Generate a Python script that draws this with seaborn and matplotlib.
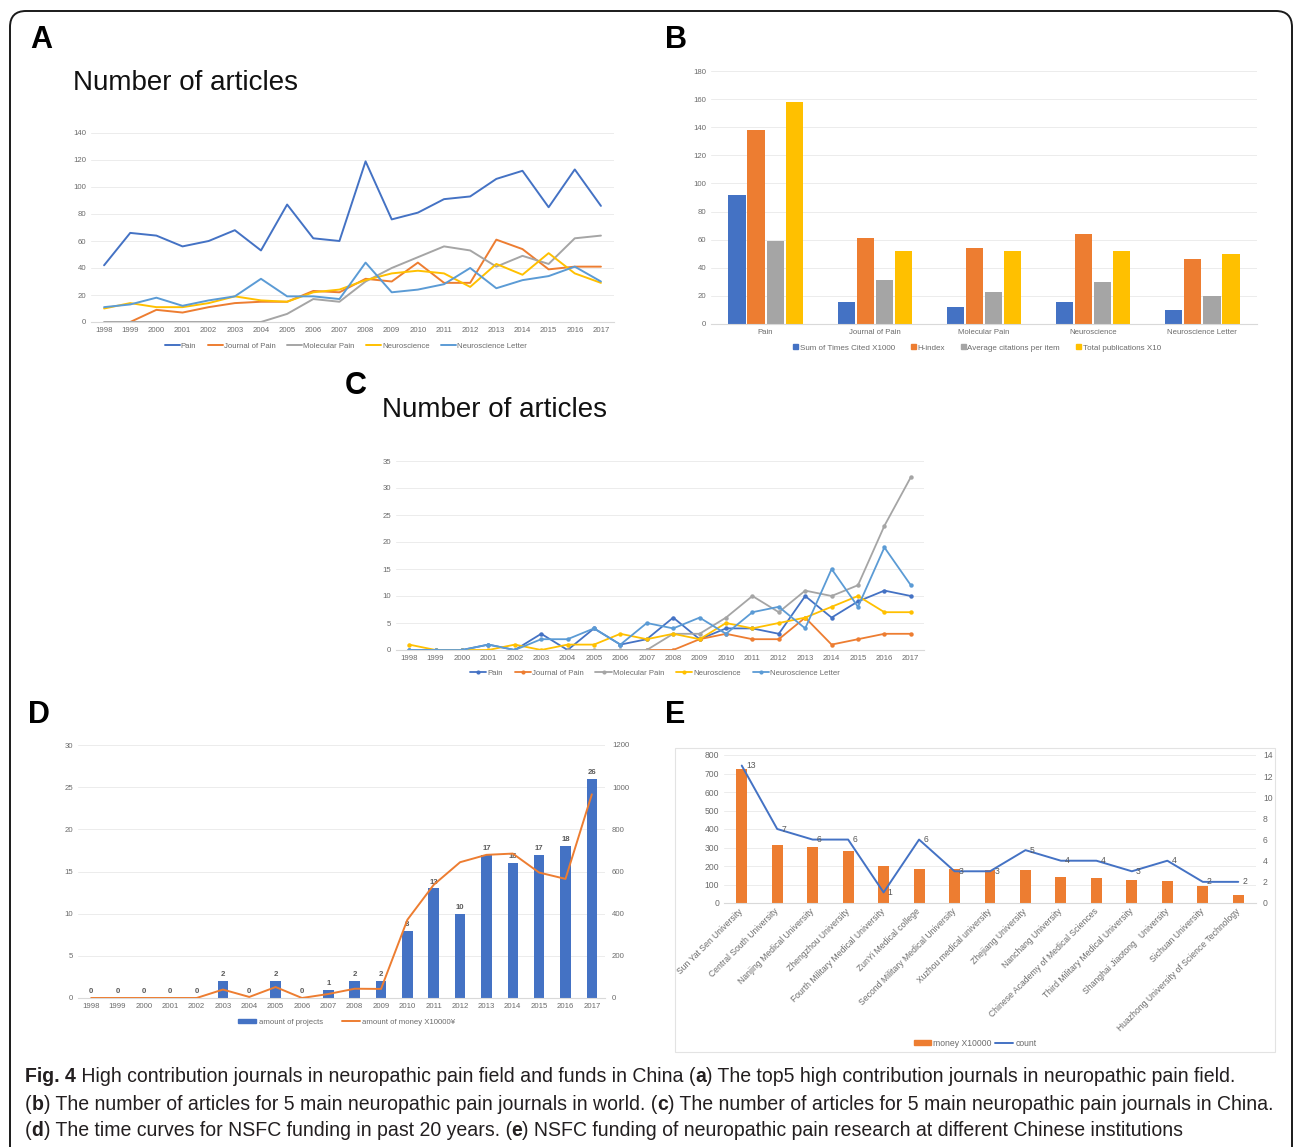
"""Fig. 4 recreation: journals + NSFC funding panels -> out.png"""
import numpy as np
import pandas as pd
import matplotlib
matplotlib.use("Agg")
import matplotlib.pyplot as plt
import seaborn as sns
from matplotlib.patches import FancyBboxPatch, Rectangle, Patch
from matplotlib.lines import Line2D
from matplotlib.transforms import IdentityTransform
from matplotlib import font_manager

W, H = 1295, 1147
nan = np.nan

# ── data ──────────────────────────────────────────────────────────────────────
YEARS = list(range(1998, 2018))
JOURNALS = ["Pain", "Journal of Pain", "Molecular Pain", "Neuroscience", "Neuroscience Letter"]

# A: number of articles (world)
a_pain  = [42, 66, 64, 56, 60, 68, 53, 87, 62, 60, 119, 76, 81, 91, 93, 106, 112, 85, 113, 86]
a_jpain = [nan, 0, 9, 7, 11, 14, 15, 15, 23, 22, 32, 30, 44, 29, 29, 61, 54, 39, 41, 41]
a_mpain = [0, 0, 0, 0, 0, 0, 0, 6, 17, 15, 30, 40, 48, 56, 53, 41, 49, 43, 62, 64]
a_neuro = [10, 14, 11, 11, 14, 19, 16, 15, 22, 24, 31, 36, 38, 36, 26, 43, 35, 51, 36, 29]
a_nlett = [11, 13, 18, 12, 16, 19, 32, 19, 19, 17, 44, 22, 24, 28, 40, 25, 31, 34, 41, 30]

# B: journal metrics
METRICS = ["Sum of Times Cited X1000", "H-index", "Average citations per item", "Total publications X10"]
b_cited = [92, 16, 12, 15.5, 10]
b_hindex = [138, 61, 54, 64, 46]
b_avg = [59, 31, 23, 30, 20]
b_pubs = [158, 52, 52, 52, 50]

# C: number of articles (China)
c_pain  = [0, 0, 0, 1, 0, 3, 0, 4, 1, 2, 6, 2, 4, 4, 3, 10, 6, 9, 11, 10]
c_jpain = [nan] * 9 + [0, 0, 2, 3, 2, 2, 6, 1, 2, 3, 3]
c_mpain = [nan] * 6 + [0, 0, 0, 0, 3, 3, 6, 10, 7, 11, 10, 12, 23, 32]
c_neuro = [1, 0, 0, 0, 1, 0, 1, 1, 3, 2, 3, 2, 5, 4, 5, 6, 8, 10, 7, 7]
c_nlett = [0, 0, 0, 1, 0, 2, 2, 4, 1, 5, 4, 6, 3, 7, 8, 4, 15, 8, 19, 12]

# D: NSFC funding over time
d_projects = [0, 0, 0, 0, 0, 2, 0, 2, 0, 1, 2, 2, 8, 13, 10, 17, 16, 17, 18, 26]
d_money = [0, 0, 0, 0, 0, 40, 5, 52, 0, 19, 44, 43, 371, 537, 644, 679, 685, 595, 565, 966]

# E: NSFC funding by institution
INSTITUTIONS = ["Sun Yat Sen University", "Central South University", "Nanjing Medical University",
                "Zhengzhou University", "Fourth Military Medical University", "ZunYi Medical college",
                "Second Military Medical University", "Xuzhou medical university", "Zhejiang University",
                "Nanchang University", "Chinese Academy of Medical Sciences",
                "Third Military Medical University", "Shanghai Jiaotong   University",
                "Sichuan University", "Huazhong University of Science Technology"]
e_money = [725, 315, 305, 280, 200, 185, 183, 180, 178, 138, 136, 125, 120, 90, 45]
e_count = [13, 7, 6, 6, 1, 6, 3, 3, 5, 4, 4, 3, 4, 2, 2]

# ── style ─────────────────────────────────────────────────────────────────────
BLUE, ORANGE, GRAY, YELLOW, LBLUE = "#4472C4", "#ED7D31", "#A5A5A5", "#FFC000", "#5B9BD5"
COLORS = [BLUE, ORANGE, GRAY, YELLOW, LBLUE]
TICK, GRID, AXIS = "#6b6b6b", "#ececec", "#d9d9d9"
FS = 5.6

sns.set_theme(style="white")
plt.rcParams["font.family"] = ["Liberation Sans", "DejaVu Sans"]

fig = plt.figure(figsize=(W / 100, H / 100), dpi=100)


def add_ax(x0, y0, x1, y1):
    return fig.add_axes([x0 / W, 1 - y1 / H, (x1 - x0) / W, (y1 - y0) / H])


def fpt(x, y):
    return (x / W, 1 - y / H)


def excel_style(ax, yticks, size=FS):
    ax.set_ylim(yticks[0], yticks[-1])
    ax.set_yticks(list(yticks))
    ax.grid(axis="y", color=GRID, lw=0.7)
    ax.grid(axis="x", visible=False)
    ax.set_axisbelow(True)
    for s in ["top", "right", "left"]:
        ax.spines[s].set_visible(False)
    ax.spines["bottom"].set_color(AXIS)
    ax.spines["bottom"].set_linewidth(0.8)
    ax.tick_params(length=0, labelsize=size, labelcolor=TICK, pad=3.5)
    ax.set_xlabel("")
    ax.set_ylabel("")


def right_style(ax, yticks, size=FS):
    ax.set_ylim(yticks[0], yticks[-1])
    ax.set_yticks(list(yticks))
    ax.grid(False)
    for s in ax.spines.values():
        s.set_visible(False)
    ax.tick_params(length=0, labelsize=size, labelcolor=TICK, pad=5)
    ax.set_ylabel("")


def legend(ax, handles, labels, center, **kw):
    opts = dict(loc="center", bbox_to_anchor=fpt(*center), bbox_transform=fig.transFigure,
                ncol=len(labels), frameon=False, fontsize=FS, labelcolor=TICK,
                handlelength=3, columnspacing=1.6, handletextpad=0.3, borderpad=0)
    opts.update(kw)
    ax.legend(handles, labels, **opts)


def long_lines(series):
    rows = []
    for name, vals in zip(JOURNALS, series):
        for y, v in zip(YEARS, vals):
            if not np.isnan(v):
                rows.append({"year": y, "n": v, "journal": name})
    return pd.DataFrame(rows)


# ── outer frame + panel letters ───────────────────────────────────────────────
fig.add_artist(FancyBboxPatch((10, -30), 1282, H - 11 + 30, boxstyle="round,pad=0,rounding_size=16",
                              transform=IdentityTransform(), fc="none", ec="#1a1a1a", lw=1.4))
for letter, x, y in [("A", 30, 40), ("B", 665, 40), ("C", 345, 386), ("D", 28, 715), ("E", 665, 715)]:
    fig.text(*fpt(x, y), letter, fontsize=22, fontweight="bold", va="center", ha="left", color="black")
fig.text(*fpt(73, 83), "Number of articles", fontsize=20, va="center", ha="left", color="#111111")
fig.text(*fpt(382, 410), "Number of articles", fontsize=20, va="center", ha="left", color="#111111")

# ── A. world articles ─────────────────────────────────────────────────────────
axA = add_ax(91, 133, 614, 322)
dfA = long_lines([a_pain, a_jpain, a_mpain, a_neuro, a_nlett])
sns.lineplot(data=dfA, x="year", y="n", hue="journal", hue_order=JOURNALS, palette=COLORS,
             estimator=None, lw=1.4, legend=False, ax=axA)
axA.set_xlim(1997.5, 2017.5)
axA.set_xticks(YEARS)
excel_style(axA, range(0, 141, 20))
legend(axA, [Line2D([], [], color=c, lw=1.4) for c in COLORS], JOURNALS, (346, 346),
       handlelength=1.9, handletextpad=0.15, columnspacing=1.5)

# ── B. journal metrics ────────────────────────────────────────────────────────
axB = add_ax(711, 71, 1257, 324)
dfB = pd.DataFrame({"journal": np.repeat(JOURNALS, 4),
                    "metric": METRICS * 5,
                    "value": np.array([b_cited, b_hindex, b_avg, b_pubs]).T.ravel()})
sns.barplot(data=dfB, x="journal", y="value", hue="metric", hue_order=METRICS,
            palette=[BLUE, ORANGE, GRAY, YELLOW], saturation=1, width=0.7, gap=0.1,
            errorbar=None, linewidth=0, legend=False, ax=axB)
axB.set_xlim(-0.5, 4.5)
excel_style(axB, range(0, 181, 20))
legend(axB, [Patch(color=c) for c in [BLUE, ORANGE, GRAY, YELLOW]], METRICS, (977, 348),
       fontsize=5.8, handlelength=0.6, handleheight=0.6, handletextpad=0.2, columnspacing=2.0)

# ── C. China articles ─────────────────────────────────────────────────────────
axC = add_ax(396, 461, 924, 650)
dfC = long_lines([c_pain, c_jpain, c_mpain, c_neuro, c_nlett])
sns.lineplot(data=dfC, x="year", y="n", hue="journal", hue_order=JOURNALS, palette=COLORS,
             estimator=None, lw=1.3, marker="o", markersize=3.2, markeredgewidth=0,
             legend=False, ax=axC)
axC.set_xlim(1997.5, 2017.5)
axC.set_xticks(YEARS)
excel_style(axC, range(0, 36, 5))
legend(axC, [Line2D([], [], color=c, lw=1.3, marker="o", markersize=3, markeredgewidth=0)
             for c in COLORS], JOURNALS, (655, 673),
       handlelength=2.1, handletextpad=0.15, columnspacing=1.5)

# ── D. NSFC funding by year ───────────────────────────────────────────────────
axD = add_ax(78, 745, 605, 998)
dfD = pd.DataFrame({"year": [str(y) for y in YEARS], "projects": d_projects, "money": d_money})
sns.barplot(data=dfD, x="year", y="projects", color=BLUE, saturation=1, width=0.4,
            errorbar=None, linewidth=0, ax=axD)
axD.bar_label(axD.containers[0], fmt="%d", padding=2, fontsize=FS, color="#595959", fontweight="bold")
excel_style(axD, range(0, 31, 5))
axD.set_xlim(-0.5, len(YEARS) - 0.5)
axD2 = axD.twinx()
sns.lineplot(x=np.arange(len(YEARS)), y=d_money, color=ORANGE, lw=1.4, ax=axD2)
right_style(axD2, range(0, 1201, 200))
legend(axD, [Patch(color=BLUE), Line2D([], [], color=ORANGE, lw=1.4)],
       ["amount of projects", "amount of money X10000¥"], (347, 1022),
       handlelength=2.3, handleheight=0.5, columnspacing=2.5)

# ── E. NSFC funding by institution ────────────────────────────────────────────
fig.add_artist(Rectangle(fpt(675, 1052), 600 / W, 304 / H, transform=fig.transFigure,
                         fc="none", ec="#e3e3e3", lw=0.8))
FSE = 6.2
axE = add_ax(724, 755, 1256, 903)
sns.barplot(x=INSTITUTIONS, y=e_money, color=ORANGE, saturation=1, width=0.31,
            errorbar=None, linewidth=0, ax=axE)
excel_style(axE, range(0, 801, 100), size=FSE)
axE.set_xlim(-0.5, len(INSTITUTIONS) - 0.5)
axE.set_xticks(range(len(INSTITUTIONS)))
axE.set_xticklabels(INSTITUTIONS, rotation=45, ha="right", va="center", rotation_mode="anchor")
axE.tick_params(axis="x", pad=5)
axE2 = axE.twinx()
sns.lineplot(x=np.arange(len(INSTITUTIONS)), y=e_count, color=BLUE, lw=1.4, ax=axE2)
for i, c in enumerate(e_count):
    axE2.annotate(str(c), (i, c), xytext=(3, 0), textcoords="offset points",
                  ha="left", va="center", fontsize=FSE, color="#595959")
right_style(axE2, range(0, 15, 2), size=FSE)
legend(axE, [Patch(color=ORANGE), Line2D([], [], color=BLUE, lw=1.4)],
       ["money X10000", "count"], (975, 1043), fontsize=FSE,
       handlelength=2.0, handleheight=0.6, columnspacing=0.4)

# ── caption ───────────────────────────────────────────────────────────────────
names = {f.name for f in font_manager.fontManager.ttflist}
CAPFAM = "Liberation Sans Narrow" if "Liberation Sans Narrow" in names else "Liberation Sans"
CAPCOL = "#231f20"
cap_lines = [
    [("Fig. 4", True), (" High contribution journals in neuropathic pain field and funds in China (", False),
     ("a", True), (") The top5 high contribution journals in neuropathic pain field.", False)],
    [("(", False), ("b", True), (") The number of articles for 5 main neuropathic pain journals in world. (", False),
     ("c", True), (") The number of articles for 5 main neuropathic pain journals in China.", False)],
    [("(", False), ("d", True), (") The time curves for NSFC funding in past 20 years. (", False),
     ("e", True), (") NSFC funding of neuropathic pain research at different Chinese institutions", False)],
]
renderer = fig.canvas.get_renderer()


def draw_runs(x, y, runs, size, keep=True):
    for s, bold in runs:
        t = fig.text(*fpt(x, y), s, fontsize=size, fontweight="bold" if bold else "normal",
                     family=CAPFAM, va="center", ha="left", color=CAPCOL)
        x += t.get_window_extent(renderer).width
        if not keep:
            t.remove()
    return x


cap_size = 10 * (1277 - 25) / (draw_runs(25, 1104, cap_lines[1], 10, keep=False) - 25)
for runs, y in zip(cap_lines, [1077, 1104, 1131]):
    draw_runs(25, y, runs, cap_size)

fig.savefig("out.png", dpi=100)
